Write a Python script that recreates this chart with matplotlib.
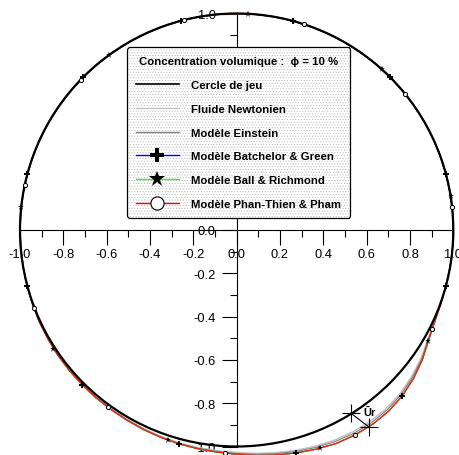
import matplotlib
matplotlib.use('Agg')
import matplotlib.pyplot as plt
import numpy as np
from matplotlib.lines import Line2D
from matplotlib.patches import Circle
from matplotlib.ticker import FixedLocator, FormatStrFormatter

plt.rcParams['font.family'] = ['Liberation Sans', 'DejaVu Sans']
plt.rcParams['axes.unicode_minus'] = False
plt.rcParams['hatch.linewidth'] = 0.4

# ---------------- data ----------------
clearance_radius = 1.0

# orbit sampled every 5 degrees (angle in degrees, radius relative to clearance)
theta_deg = [0, 5, 10, 15, 20, 25, 30, 35, 40, 45, 50, 55, 60, 65, 70, 75, 80, 85,
             90, 95, 100, 105, 110, 115, 120, 125, 130, 135, 140, 145, 150, 155, 160, 165,
             170, 175, 180, 185, 190, 195, 200, 205, 210, 215, 220, 225, 230, 235, 240, 245,
             250, 255, 260, 265, 270, 275, 280, 285, 290, 295, 300, 305, 310, 315, 320, 325,
             330, 335, 340, 345, 350, 355]

_upper = [1.0] * 38  # 0..185 deg : orbit on the clearance circle

r_newton = _upper + [1.000, 1.001, 1.002, 1.003, 1.004, 1.006, 1.007, 1.008, 1.009, 1.010,
                     1.011, 1.013, 1.016, 1.019, 1.021, 1.024, 1.028, 1.036, 1.045, 1.054,
                     1.063, 1.071, 1.076, 1.078, 1.076, 1.068, 1.054, 1.038, 1.018, 1.006,
                     1.002, 1.000, 1.000, 1.000]
r_einstein = _upper + [1.000, 1.001, 1.003, 1.005, 1.005, 1.007, 1.008, 1.009, 1.010, 1.011,
                       1.012, 1.015, 1.018, 1.021, 1.024, 1.027, 1.032, 1.040, 1.049, 1.059,
                       1.069, 1.078, 1.084, 1.086, 1.083, 1.074, 1.059, 1.042, 1.020, 1.007,
                       1.002, 1.000, 1.000, 1.000]
r_batchelor = _upper + [1.000, 1.001, 1.003, 1.005, 1.006, 1.008, 1.009, 1.010, 1.011, 1.012,
                        1.014, 1.017, 1.020, 1.023, 1.026, 1.030, 1.036, 1.045, 1.055, 1.066,
                        1.077, 1.088, 1.093, 1.095, 1.092, 1.082, 1.066, 1.046, 1.022, 1.008,
                        1.002, 1.000, 1.000, 1.000]
r_ball = list(r_batchelor)
r_phan = list(r_batchelor)

# marker positions (angle deg, radius)
bg_mk_theta = [15, 45, 75, 105, 135, 165, 195, 225, 255, 285, 315, 345]
bg_mk_r = [1.0, 1.0, 1.0, 1.0, 1.0, 1.0, 1.001, 1.010, 1.023, 1.066, 1.082, 1.0]
br_mk_theta = [9, 48, 87, 126, 174, 213, 252, 291, 330]
br_mk_r = [1.0, 1.0, 1.0, 1.0, 1.0, 1.008, 1.021, 1.078, 1.022]
pt_mk_theta = [6, 39, 72, 104, 136, 168, 201, 234, 267, 300, 333]
pt_mk_r = [1.0, 1.0, 1.0, 1.0, 1.0, 1.0, 1.003, 1.012, 1.032, 1.093, 1.012]

# radial displacement annotation (Ur)
ur_x = [0.527, 0.612]
ur_y = [-0.846, -0.911]

xticks = [-1.0, -0.8, -0.6, -0.4, -0.2, 0.0, 0.2, 0.4, 0.6, 0.8, 1.0]
yticks = [-1.0, -0.8, -0.6, -0.4, -0.2, 0.0, 0.2, 0.4, 0.6, 0.8, 1.0]
minor_ticks = [-0.9, -0.7, -0.5, -0.3, -0.1, 0.1, 0.3, 0.5, 0.7, 0.9]

labels = ['Cercle de jeu', 'Fluide Newtonien', 'Modèle Einstein',
          'Modèle Batchelor & Green', 'Modèle Ball & Richmond', 'Modèle Phan-Thien & Pham']
legend_title = 'Concentration volumique :  ϕ = 10 %'


def polar(theta, r):
    t = np.radians(np.asarray(theta, float))
    r = np.asarray(r, float)
    x, y = r * np.cos(t), r * np.sin(t)
    return np.append(x, x[0]), np.append(y, y[0])


def polar_pts(theta, r):
    t = np.radians(np.asarray(theta, float))
    r = np.asarray(r, float)
    return r * np.cos(t), r * np.sin(t)


# ---------------- figure ----------------
fig = plt.figure(figsize=(4.59, 4.56), dpi=100)
ax = fig.add_axes([20 / 459, 8.5 / 456, 433.3 / 459, 433 / 456])
ax.set_xlim(-1, 1)
ax.set_ylim(-1, 1)

for s in ['top', 'right']:
    ax.spines[s].set_visible(False)
ax.spines['left'].set_position('zero')
ax.spines['bottom'].set_position('zero')
for s in ['left', 'bottom']:
    ax.spines[s].set_linewidth(0.8)

ax.xaxis.set_major_locator(FixedLocator(xticks))
ax.yaxis.set_major_locator(FixedLocator(yticks))
ax.xaxis.set_minor_locator(FixedLocator(minor_ticks))
ax.yaxis.set_minor_locator(FixedLocator(minor_ticks))
ax.xaxis.set_major_formatter(FormatStrFormatter('%.1f'))
ax.yaxis.set_major_formatter(FormatStrFormatter('%.1f'))
ax.tick_params(which='major', direction='out', length=10.5, width=0.8, labelsize=9.3)
ax.tick_params(axis='x', which='major', pad=2.5)
ax.tick_params(axis='y', which='major', pad=4.5)
ax.tick_params(which='minor', direction='out', length=5, width=0.8)

# orbits
x, y = polar(theta_deg, r_newton)
ax.plot(x, y, color='#c4c4c4', lw=1.2, clip_on=False, zorder=3)
x, y = polar(theta_deg, r_einstein)
ax.plot(x, y, color='#808080', lw=0.8, clip_on=False, zorder=3)
x, y = polar(theta_deg, r_batchelor)
ax.plot(x, y, color='#0000ff', lw=0.8, clip_on=False, zorder=3)
x, y = polar(theta_deg, r_ball)
ax.plot(x, y, color='#33ee33', lw=0.8, clip_on=False, zorder=3)
x, y = polar(theta_deg, r_phan)
ax.plot(x, y, color='#ff2000', lw=0.9, clip_on=False, zorder=3)

# clearance circle
ax.add_patch(Circle((0, 0), clearance_radius, fill=False, ec='black', lw=1.6,
                    clip_on=False, zorder=4))

# markers
mx, my = polar_pts(bg_mk_theta, bg_mk_r)
ax.plot(mx, my, ls='none', marker='P', ms=4, color='black', mew=0, clip_on=False, zorder=5)
mx, my = polar_pts(br_mk_theta, br_mk_r)
ax.plot(mx, my, ls='none', marker='*', ms=5, color='black', mew=0, clip_on=False, zorder=5)
mx, my = polar_pts(pt_mk_theta, pt_mk_r)
ax.plot(mx, my, ls='none', marker='o', ms=3, mfc='white', mec='black', mew=0.7,
        clip_on=False, zorder=5)

# Ur annotation
ax.plot(ur_x, ur_y, color='black', lw=0.8, marker='+', ms=13, mew=0.8, zorder=6,
        clip_on=False)
ax.text(0.612, -0.84, 'Ūr', fontsize=8, fontweight='bold', ha='center', va='center',
        zorder=6)

# legend
handles = [
    Line2D([], [], color='black', lw=1.2),
    Line2D([], [], color='#c4c4c4', lw=1.0),
    Line2D([], [], color='#808080', lw=1.0),
    Line2D([], [], color='#0000ff', lw=1.0, marker='P', ms=10, mfc='black', mec='black', mew=0),
    Line2D([], [], color='#33ee33', lw=1.0, marker='*', ms=12, mfc='black', mec='black', mew=0),
    Line2D([], [], color='#ff0000', lw=1.0, marker='o', ms=9.5, mfc='white', mec='black', mew=0.8),
]
leg = ax.legend(handles, labels, title=legend_title,
                loc='upper left', bbox_to_anchor=((127.3 - 20) / 433.3, 1 - (48.3 - 14.5) / 433),
                borderaxespad=0, prop={'weight': 'bold', 'size': 8.2},
                title_fontproperties={'weight': 'bold', 'size': 8.2},
                handlelength=3.77, handletextpad=1.1, labelspacing=1.22, borderpad=0.75,
                fancybox=True, framealpha=1, edgecolor='black')
leg.set_zorder(10)
fr = leg.get_frame()
fr.set_linewidth(0.9)
fr.set_facecolor('white')
fr.set_hatch('......')
try:
    fr.set_hatchcolor('#b8b8b8')
except AttributeError:
    fr._hatch_color = matplotlib.colors.to_rgba('#b8b8b8')

fig.savefig('out.png', dpi=100)
